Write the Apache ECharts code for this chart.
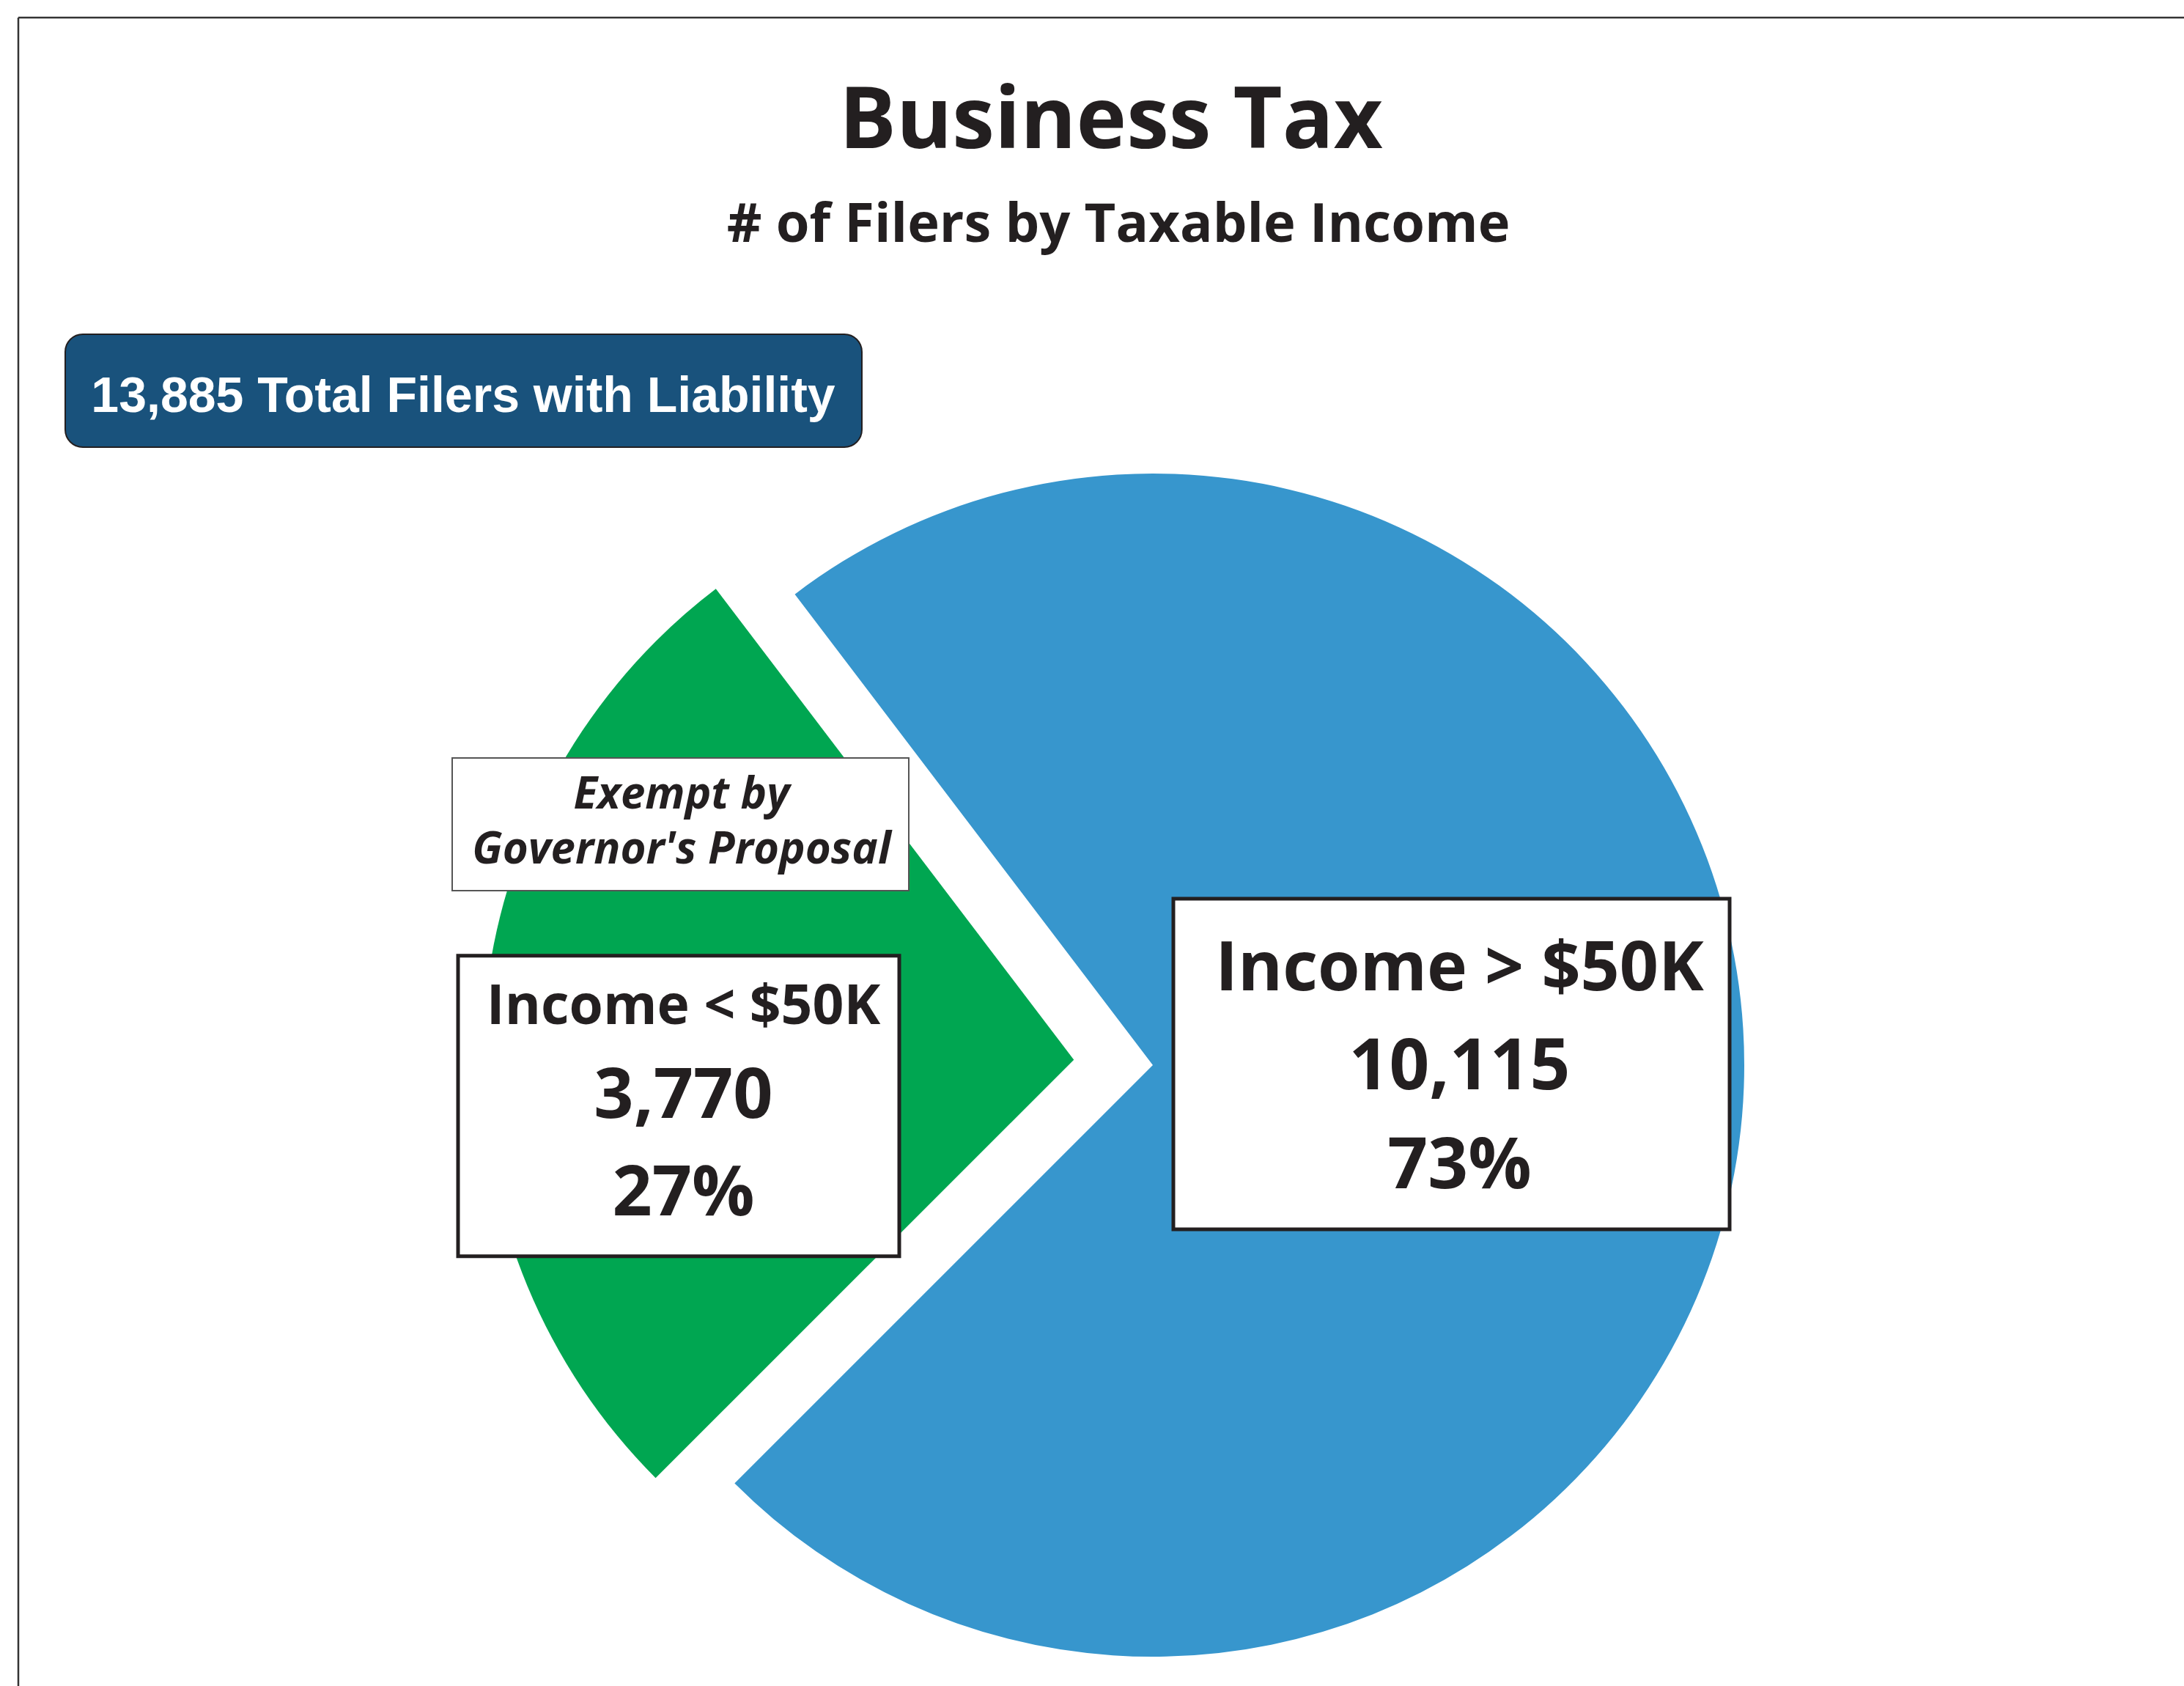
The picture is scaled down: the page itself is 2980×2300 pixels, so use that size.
<!DOCTYPE html>
<html><head><meta charset="utf-8">
<script src="https://cdn.jsdelivr.net/npm/echarts@6/dist/echarts.min.js"></script>
<style>html,body{margin:0;padding:0;background:#fff}#c{width:2980px;height:2300px}</style>
</head><body><div id="c"></div>
<script>
// ---- data ----
const categories = ['Income > $50K', 'Income < $50K'];
const filers = [10115, 3770];
const sliceColors = ['#3796cd', '#00a651'];
const titleText = 'Business Tax';
const subtitleText = '# of Filers by Taxable Income';
const totalSuffix = ' Total Filers with Liability';
const noteLines = ['Exempt by', "Governor's Proposal"];

// ---- layout ----
const FONT = '"Open Sans", "Noto Sans", sans-serif';
const INK = '#231f20';
const CENTER = [1573, 1453];
const RADIUS = 807;
const START = 127.25;
const EXPLODE = 108;
const labelBoxes = [[1603.5, 1228.5], [630.5, 1306.5]];
const labelStyles = [
  { width: 660, padding: [28, 36, 13, 58], nameSize: 93, nameLH: 135, valSize: 96, valLH: 135 },
  { width: 560, padding: [14, 12, 14, 25], nameSize: 75, nameLH: 111, valSize: 95, valLH: 133 }
];

const total = filers.reduce((a, b) => a + b, 0);
const fmt = n => n.toLocaleString('en-US');

// default "inside" label anchor of each slice (for offsetting the label boxes)
function anchorOf(i) {
  let a = START;
  for (let k = 0; k < i; k++) a -= 360 * filers[k] / total;
  const mid = (a - 180 * filers[i] / total) * Math.PI / 180;
  const off = i === 1 ? EXPLODE : 0;
  const r = off + RADIUS / 2;
  return [CENTER[0] + Math.cos(mid) * r, CENTER[1] - Math.sin(mid) * r];
}

const seriesData = categories.map((name, i) => {
  const ls = labelStyles[i];
  return {
    name: name,
    value: filers[i],
    selected: i === 1,
    itemStyle: { color: sliceColors[i] },
    label: {
      width: ls.width,
      overflow: 'none',
      padding: ls.padding,
      rich: {
        n: { fontFamily: FONT, fontWeight: 'bold', fontSize: ls.nameSize, lineHeight: ls.nameLH, color: INK, align: 'center' },
        v: { fontFamily: FONT, fontWeight: 'bold', fontSize: ls.valSize, lineHeight: ls.valLH, color: INK, align: 'center' }
      }
    }
  };
});

const chart = echarts.init(document.getElementById('c'), null, { renderer: 'canvas' });
chart.setOption({
  animation: false,
  backgroundColor: '#ffffff',
  series: [{
    type: 'pie',
    center: CENTER,
    radius: RADIUS,
    startAngle: START,
    clockwise: true,
    selectedMode: 'single',
    selectedOffset: EXPLODE,
    avoidLabelOverlap: false,
    emphasis: { disabled: true },
    labelLine: { show: false },
    label: {
      show: true,
      position: 'inside',
      backgroundColor: '#ffffff',
      borderColor: INK,
      borderWidth: 5,
      formatter: p => '{n|' + p.name + '}\n{v|' + fmt(p.value) + '}\n{v|' + Math.round(p.percent) + '%}'
    },
    labelLayout: p => {
      const i = p.dataIndex;
      if (i === 1) {
        const a = anchorOf(i);
        return { dx: labelBoxes[i][0] - a[0], dy: labelBoxes[i][1] - a[1], align: 'left', verticalAlign: 'top' };
      }
      return { x: labelBoxes[i][0], y: labelBoxes[i][1], align: 'left', verticalAlign: 'top' };
    },
    data: seriesData
  }],
  graphic: [
    { type: 'line', z: 10, shape: { x1: 25, y1: 24, x2: 2980, y2: 24 }, style: { stroke: '#333', lineWidth: 2.5 } },
    { type: 'line', z: 10, shape: { x1: 25, y1: 24, x2: 25, y2: 2300 }, style: { stroke: '#333', lineWidth: 2.5 } },
    { type: 'text', z: 10, x: 1516, y: 169, style: { text: titleText, font: 'bold 116px ' + FONT, fill: INK, align: 'center', verticalAlign: 'middle' } },
    { type: 'text', z: 10, x: 1526, y: 309, style: { text: subtitleText, font: 'bold 74px ' + FONT, fill: INK, align: 'center', verticalAlign: 'middle' } },
    { type: 'rect', z: 10, shape: { x: 89, y: 456, width: 1087, height: 154, r: 24 }, style: { fill: '#19527c', stroke: INK, lineWidth: 2 } },
    { type: 'text', z: 11, x: 632, y: 543, style: { text: fmt(total) + totalSuffix, font: 'bold 68px "Liberation Sans", Arial, sans-serif', fill: '#ffffff', align: 'center', verticalAlign: 'middle' } },
    { type: 'rect', z: 10, shape: { x: 617, y: 1034, width: 623, height: 181 }, style: { fill: '#ffffff', stroke: '#555', lineWidth: 2 } },
    { type: 'text', z: 11, x: 930, y: 1123.5, style: { text: noteLines.join('\n'), font: 'italic bold 60px ' + FONT, lineHeight: 75, fill: INK, align: 'center', verticalAlign: 'middle' } }
  ]
});
</script>
</body></html>
